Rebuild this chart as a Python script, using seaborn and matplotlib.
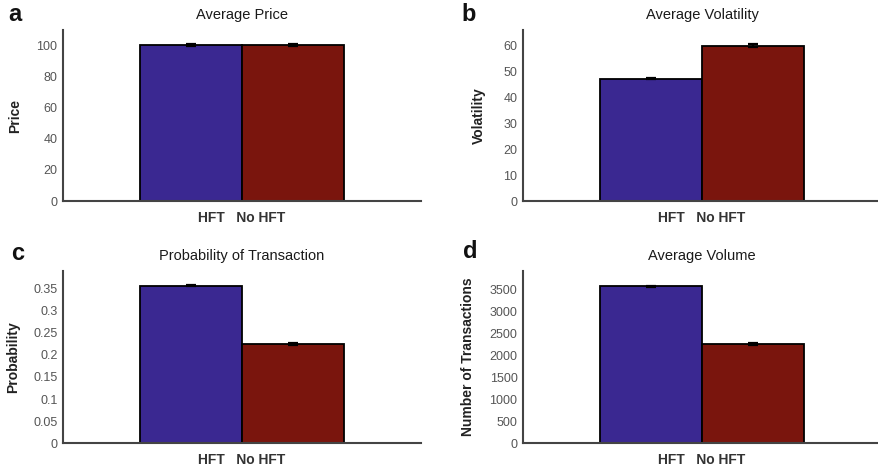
import numpy as np
import pandas as pd
import matplotlib
matplotlib.use("Agg")
import matplotlib.pyplot as plt
from matplotlib.ticker import FuncFormatter
import seaborn as sns

# Conditions compared in every panel
conditions = ["HFT", "No HFT"]
bar_colors = ["#3a2891", "#7a150d"]

# Panel contents
panel_letters = ["a", "b", "c", "d"]
panel_titles = ["Average Price", "Average Volatility",
                "Probability of Transaction", "Average Volume"]
panel_ylabels = ["Price", "Volatility", "Probability", "Number of Transactions"]

# Means and standard errors per condition
price_mean = [100.2, 100.4]
price_err = [0.5, 0.9]
volatility_mean = [47.2, 60.0]
volatility_err = [0.3, 0.5]
probability_mean = [0.356, 0.225]
probability_err = [0.0012, 0.0020]
volume_mean = [3575, 2260]
volume_err = [8, 25]

# Axis ranges and ticks
y_limits = [110, 66, 0.39, 3930]
y_ticks = [np.arange(0, 101, 20), np.arange(0, 61, 10),
           np.arange(0, 0.351, 0.05), np.arange(0, 3501, 500)]

means = [price_mean, volatility_mean, probability_mean, volume_mean]
errs = [price_err, volatility_err, probability_err, volume_err]

sns.set_theme(style="white")
plt.rcParams["font.family"] = ["Liberation Sans", "DejaVu Sans"]

fig = plt.figure(figsize=(8.79, 4.68), dpi=100)

positions = [
    [0.0717, 0.5705, 0.4073, 0.3654],
    [0.5950, 0.5705, 0.4073, 0.3654],
    [0.0717, 0.0528, 0.4073, 0.3688],
    [0.5950, 0.0528, 0.4073, 0.3688],
]
letter_xy = [(0.009, 0.968), (0.525, 0.968), (0.013, 0.458), (0.527, 0.462)]
ylabel_x = [-0.113, -0.105, -0.121, -0.135]

for i in range(4):
    ax = fig.add_axes(positions[i])
    df = pd.DataFrame({
        "group": ["HFT   No HFT"] * 2,
        "condition": conditions,
        "value": means[i],
    })
    sns.barplot(data=df, x="group", y="value", hue="condition",
                hue_order=conditions, palette=bar_colors, width=0.8,
                saturation=1, edgecolor="black", linewidth=1.3,
                errorbar=None, legend=False, ax=ax)
    centers = [p.get_x() + p.get_width() / 2 for p in ax.patches[:2]]
    ax.errorbar(centers, means[i], yerr=errs[i], fmt="none",
                ecolor="black", elinewidth=1.6, capsize=3.5, capthick=1.6,
                zorder=5)

    ax.set_xlim(-0.702, 0.702)
    ax.set_ylim(0, y_limits[i])
    ax.set_yticks(y_ticks[i])
    ax.yaxis.set_major_formatter(FuncFormatter(lambda v, p: f"{v:g}"))
    ax.tick_params(axis="y", length=0, pad=4, labelsize=9, labelcolor="#555555")
    ax.tick_params(axis="x", length=0, pad=7)
    for lbl in ax.get_xticklabels():
        lbl.set_fontsize(10)
        lbl.set_fontweight("bold")
        lbl.set_color("#333333")
    ax.set_xlabel("")
    ax.set_ylabel(panel_ylabels[i], fontsize=10, fontweight="bold",
                  color="#222222")
    ax.yaxis.set_label_coords(ylabel_x[i], 0.5)
    ax.set_title(panel_titles[i], fontsize=10.5, color="#1a1a1a", pad=8)

    for side in ["top", "right"]:
        ax.spines[side].set_visible(False)
    for side in ["left", "bottom"]:
        ax.spines[side].set_color("#444444")
        ax.spines[side].set_linewidth(1.5)
    ax.set_facecolor("white")

    fig.text(letter_xy[i][0], letter_xy[i][1], panel_letters[i],
             fontsize=17, fontweight="bold", color="#111111",
             ha="left", va="center")

fig.savefig("out.png", dpi=100, facecolor="white")
